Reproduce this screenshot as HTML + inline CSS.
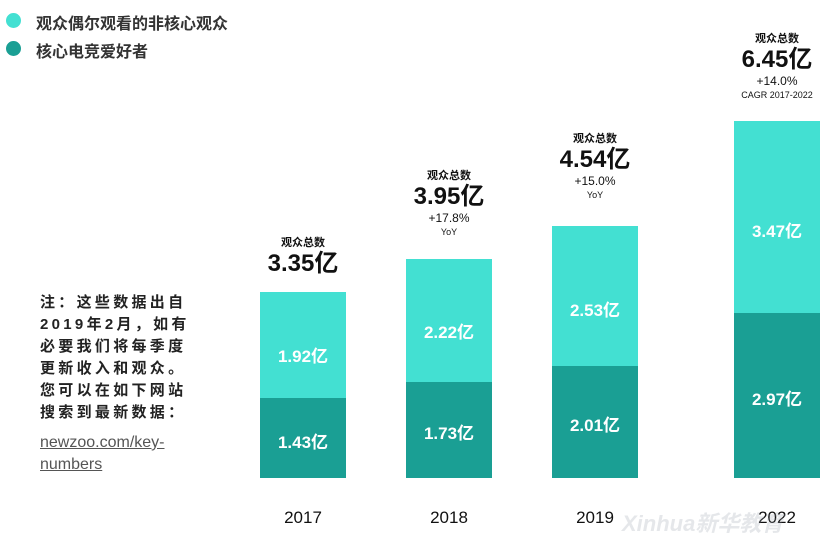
<!DOCTYPE html>
<html><head><meta charset="utf-8"><style>
body{margin:0;width:840px;height:544px;background:#fff;position:relative;overflow:hidden;font-family:"Liberation Sans","Noto Sans CJK SC",sans-serif;color:#111}
.a{position:absolute}
.bar{position:absolute;width:86px}
.l{background:#43e0d2}.d{background:#1a9f94}
.v{position:absolute;width:86px;text-align:center;color:#fff;font-weight:bold;font-size:17px}
.hd{position:absolute;width:140px;text-align:center}
.t1{font-size:11px;font-weight:bold;line-height:14px}
.t2{font-size:24px;font-weight:bold;line-height:28px}
.t3{font-size:12px;line-height:15px}
.t4{font-size:9px;line-height:13px}
.yr{position:absolute;width:86px;text-align:center;font-size:17px;top:508px}
</style></head><body>
<div class="a" style="left:6px;top:13px;width:15px;height:15px;border-radius:50%;background:#43e0d2"></div>
<div class="a" style="left:36px;top:10px;font-size:16px;font-weight:bold;color:#333">观众偶尔观看的非核心观众</div>
<div class="a" style="left:6px;top:41px;width:15px;height:15px;border-radius:50%;background:#1a9f94"></div>
<div class="a" style="left:36px;top:38px;font-size:16px;font-weight:bold;color:#333">核心电竞爱好者</div>

<div class="a" style="left:40px;top:292px;font-size:15px;line-height:22px;letter-spacing:3.3px;color:#222;font-weight:bold">注：这些数据出自<br>2019年2月，如有<br>必要我们将每季度<br>更新收入和观众。<br>您可以在如下网站<br>搜索到最新数据：</div>
<div class="a" style="left:40px;top:432px;font-size:16px;line-height:22px;color:#555;text-decoration:underline">newzoo.com/key-<br>numbers</div>

<div class="bar l" style="left:260px;top:292px;height:106px"></div>
<div class="bar d" style="left:260px;top:398px;height:80px"></div>
<div class="v" style="left:260px;top:342px">1.92亿</div>
<div class="v" style="left:260px;top:428px">1.43亿</div>

<div class="bar l" style="left:406px;top:259px;height:123px"></div>
<div class="bar d" style="left:406px;top:382px;height:96px"></div>
<div class="v" style="left:406px;top:318px">2.22亿</div>
<div class="v" style="left:406px;top:419px">1.73亿</div>

<div class="bar l" style="left:552px;top:226px;height:140px"></div>
<div class="bar d" style="left:552px;top:366px;height:112px"></div>
<div class="v" style="left:552px;top:296px">2.53亿</div>
<div class="v" style="left:552px;top:411px">2.01亿</div>

<div class="bar l" style="left:734px;top:121px;height:192px"></div>
<div class="bar d" style="left:734px;top:313px;height:165px"></div>
<div class="v" style="left:734px;top:217px">3.47亿</div>
<div class="v" style="left:734px;top:385px">2.97亿</div>

<div class="hd" style="left:233px;top:236px"><div class="t1">观众总数</div><div class="t2">3.35亿</div></div>
<div class="hd" style="left:379px;top:169px"><div class="t1">观众总数</div><div class="t2">3.95亿</div><div class="t3">+17.8%</div><div class="t4">YoY</div></div>
<div class="hd" style="left:525px;top:132px"><div class="t1">观众总数</div><div class="t2">4.54亿</div><div class="t3">+15.0%</div><div class="t4">YoY</div></div>
<div class="hd" style="left:707px;top:32px"><div class="t1">观众总数</div><div class="t2">6.45亿</div><div class="t3">+14.0%</div><div class="t4">CAGR 2017-2022</div></div>

<div class="yr" style="left:260px">2017</div>
<div class="yr" style="left:406px">2018</div>
<div class="yr" style="left:552px">2019</div>
<div class="yr" style="left:734px">2022</div>
<div class="a" style="left:622px;top:506px;font-size:22px;font-style:italic;font-weight:bold;color:rgba(150,160,170,0.25)">Xinhua新华教育</div>
</body></html>
